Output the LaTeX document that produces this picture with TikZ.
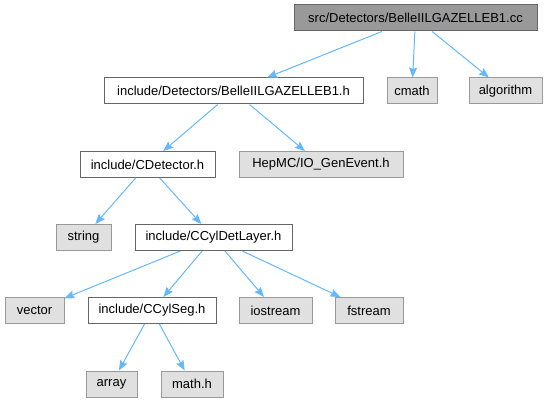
\documentclass[tikz,border=0pt]{standalone}
\usepackage{fontspec}
\setmainfont{Liberation Sans}
\usepackage{xcolor}
\usepackage{tikz}
\usetikzlibrary{arrows.meta}

\definecolor{linkblue}{HTML}{63B8FF}
\definecolor{boxgray}{HTML}{E0E0E0}
\definecolor{srcgray}{HTML}{999999}

\begin{document}
\begin{tikzpicture}[x=1pt, y=-1pt, >={Stealth[length=10pt, width=8pt, inset=1.5pt]},
    every node/.style={font=\fontsize{13}{15}\selectfont, minimum height=26pt, inner sep=0pt, line width=1pt},
    srcfile/.style={draw=black!60, fill=srcgray},
    header/.style={draw=black!60, fill=white},
    syshead/.style={draw=black!40, fill=boxgray},
    link/.style={->, draw=linkblue, line width=1pt}]
    \useasboundingbox (0,0) rectangle (549,403);

    % Tep nguon
    \node[srcfile, minimum width=243pt] (src) at (415.5,18) {src/Detectors/BelleIILGAZELLEB1.cc};

    % Hang 1
    \node[header, minimum width=259pt] (detH) at (233.5,91) {include/Detectors/BelleIILGAZELLEB1.h};
    \node[syshead, minimum width=50pt] (cmath) at (412,91) {cmath};
    \node[syshead, minimum width=73pt] (algo) at (505.5,91) {algorithm};

    % Hang 2
    \node[header, minimum width=135pt] (cdet) at (147.5,164.5) {include/CDetector.h};
    \node[syshead, minimum width=164pt] (hepmc) at (321,164.5) {HepMC/IO\_GenEvent.h};

    % Hang 3
    \node[syshead, minimum width=55pt] (str) at (83.5,237.5) {string};
    \node[header, minimum width=157pt] (layer) at (213.5,237.5) {include/CCylDetLayer.h};

    % Hang 4
    \node[syshead, minimum width=59pt] (vec) at (34.5,310.5) {vector};
    \node[header, minimum width=128pt] (seg) at (152,310.5) {include/CCylSeg.h};
    \node[syshead, minimum width=73pt] (iostr) at (275.5,310.5) {iostream};
    \node[syshead, minimum width=68pt] (fstr) at (369,310.5) {fstream};

    % Hang 5
    \node[syshead, minimum width=51pt] (arr) at (111.5,384) {array};
    \node[syshead, minimum width=62pt] (mathh) at (192,384) {math.h};

    % Cac mui ten
    \draw[link] (src) -- (detH);
    \draw[link] (src) -- (cmath);
    \draw[link] (src) -- (algo);
    \draw[link] (detH) -- (cdet);
    \draw[link] (detH) -- (hepmc);
    \draw[link] (cdet) -- (str);
    \draw[link] (cdet) -- (layer);
    \draw[link] (layer) -- (vec);
    \draw[link] (layer) -- (seg);
    \draw[link] (layer) -- (iostr);
    \draw[link] (layer) -- (fstr);
    \draw[link] (seg) -- (arr);
    \draw[link] (seg) -- (mathh);
\end{tikzpicture}
\end{document}
